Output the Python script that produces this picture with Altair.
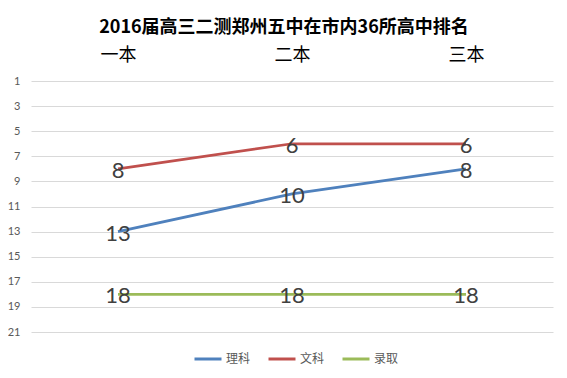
import altair as alt
import pandas as pd

categories = ["一本", "二本", "三本"]
series_names = ["理科", "文科", "录取"]
like = [13, 10, 8]
wenke = [8, 6, 6]
luqu = [18, 18, 18]
colors = ["#4F81BD", "#C0504D", "#9BBB59"]
y_ticks = list(range(1, 22, 2))

rows = []
for name, vals in zip(series_names, [like, wenke, luqu]):
    for c, v in zip(categories, vals):
        rows.append({"series": name, "cat": c, "rank": v})
df = pd.DataFrame(rows)

x_enc = alt.X(
    "cat:N",
    sort=categories,
    scale=alt.Scale(type="point", padding=0.5),
    axis=alt.Axis(
        orient="top", title=None, domain=False, ticks=False, grid=False,
        labelAngle=0, labelFontSize=18, labelColor="#000000",
        labelFont="Noto Sans CJK SC", labelFontWeight="normal", labelPadding=17,
    ),
)
y_enc = alt.Y(
    "rank:Q",
    scale=alt.Scale(domain=[1, 21], reverse=True, nice=False, zero=False),
    axis=alt.Axis(
        values=y_ticks, title=None, domain=False, ticks=False,
        gridColor="#D9D9D9", gridWidth=1, labelFontSize=11,
        labelColor="#595959", labelFont="Lato", labelPadding=11,
    ),
)

base = alt.Chart(df).encode(x=x_enc, y=y_enc)

lines = base.mark_line(strokeWidth=2.75).encode(
    color=alt.Color(
        "series:N",
        sort=series_names,
        scale=alt.Scale(domain=series_names, range=colors),
        legend=alt.Legend(
            title=None, orient="none", direction="horizontal",
            legendX=162, legendY=263,
            symbolType="stroke", symbolSize=729, symbolStrokeWidth=3,
            labelFontSize=12, labelColor="#595959", labelFont="Noto Sans CJK SC",
            labelOffset=3, columnPadding=11,
        ),
    ),
    detail="series:N",
)

labels = base.mark_text(
    fontSize=22, font="Lato", color="#404040", baseline="middle", dy=2
).encode(text="rank:Q", detail="series:N")

chart = (
    alt.layer(lines, labels)
    .properties(
        width=522,
        height=251,
        padding={"left": 23, "top": 73, "right": 6, "bottom": 36},
        autosize=alt.AutoSizeParams(type="none"),
        view=alt.ViewBackground(stroke=None, strokeWidth=0),
        title=alt.TitleParams(
            "2016届高三二测郑州五中在市内36所高中排名",
            fontSize=18, fontWeight="bold", font="Noto Sans CJK SC",
            color="#000000", anchor="middle", dx=-8, offset=9,
        ),
    )
    .configure_view(stroke=None, strokeWidth=0)
    .configure_axis(domain=False, ticks=False)
    .configure(background="#FFFFFF")
)

chart.save("out.html", embed_options={"renderer": "svg", "actions": False})
